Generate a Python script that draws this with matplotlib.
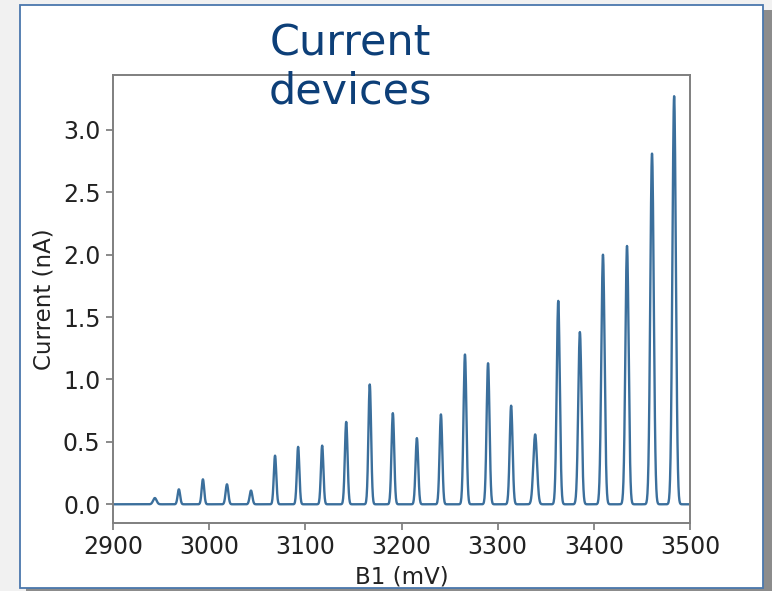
import matplotlib
matplotlib.use("Agg")
import matplotlib.pyplot as plt
from matplotlib.patches import Rectangle
import numpy as np

peak_mv = [2943.5, 2968.5, 2993.5, 3018.5, 3043.5, 3068.5, 3092.5, 3117.5,
           3142.5, 3167.0, 3191.0, 3216.0, 3241.0, 3266.0, 3290.0, 3314.0,
           3339.0, 3363.0, 3385.5, 3409.5, 3434.5, 3460.5, 3483.5]
peak_na = [0.05, 0.12, 0.20, 0.16, 0.11, 0.39, 0.46, 0.47,
           0.66, 0.96, 0.73, 0.53, 0.72, 1.20, 1.13, 0.79,
           0.56, 1.63, 1.38, 2.00, 2.07, 2.81, 3.27]
peak_sig = [1.8, 1.3, 1.3, 1.4, 1.4, 1.3, 1.3, 1.3,
            1.4, 1.4, 1.4, 1.4, 1.4, 1.5, 1.5, 1.5,
            1.9, 1.6, 1.7, 1.7, 1.7, 1.8, 1.8]
x_ticks = [2900, 3000, 3100, 3200, 3300, 3400, 3500]
y_ticks = [0.0, 0.5, 1.0, 1.5, 2.0, 2.5, 3.0]

b1 = np.arange(2900, 3500.01, 0.25)
cur = np.zeros_like(b1)
for c, h, s in zip(peak_mv, peak_na, peak_sig):
    cur += h * np.exp(-0.5 * ((b1 - c) / s) ** 2)

fig = plt.figure(figsize=(7.72, 5.91), dpi=100)
fig.patch.set_facecolor("#f1f1f1")
# slide panel: shadow, white box, blue border
fig.patches.append(Rectangle((26/772, 0), 746/772, 1 - 10/591, transform=fig.transFigure,
                             facecolor="#8c8c8c", edgecolor="none", zorder=-3))
fig.patches.append(Rectangle((20/772, 3/591), 743/772, 1 - 8/591, transform=fig.transFigure,
                             facecolor="white", edgecolor="#4a77ad", lw=1.3, zorder=-2))

ax = fig.add_axes([113/772, 1 - 523/591, 577/772, 448/591])
ax.set_facecolor("none")
ax.plot(b1, cur, color="#3b6f9c", lw=1.7)
ax.set_xlim(2900, 3500)
ax.set_ylim(-0.15, 3.44)
ax.set_xticks(x_ticks)
ax.set_yticks(y_ticks)
ax.set_yticklabels([f"{v:.1f}" for v in y_ticks])
ax.tick_params(labelsize=17, colors="#222222", length=5, width=1.2, pad=4)
ax.tick_params(color="#777777")
for sp in ax.spines.values():
    sp.set_color("#7f7f7f")
    sp.set_linewidth(1.4)
ax.set_xlabel("B1 (mV)", fontsize=16.5, color="#222222", labelpad=4)
ax.set_ylabel("Current (nA)", fontsize=16.5, color="#222222", labelpad=5)

fig.text(350/772, 1 - 23/591, "Current\ndevices", ha="center", va="top",
         fontsize=31, color="#0d3f78", linespacing=1.17, zorder=5)

fig.savefig("out.png", dpi=100, facecolor=fig.get_facecolor())
